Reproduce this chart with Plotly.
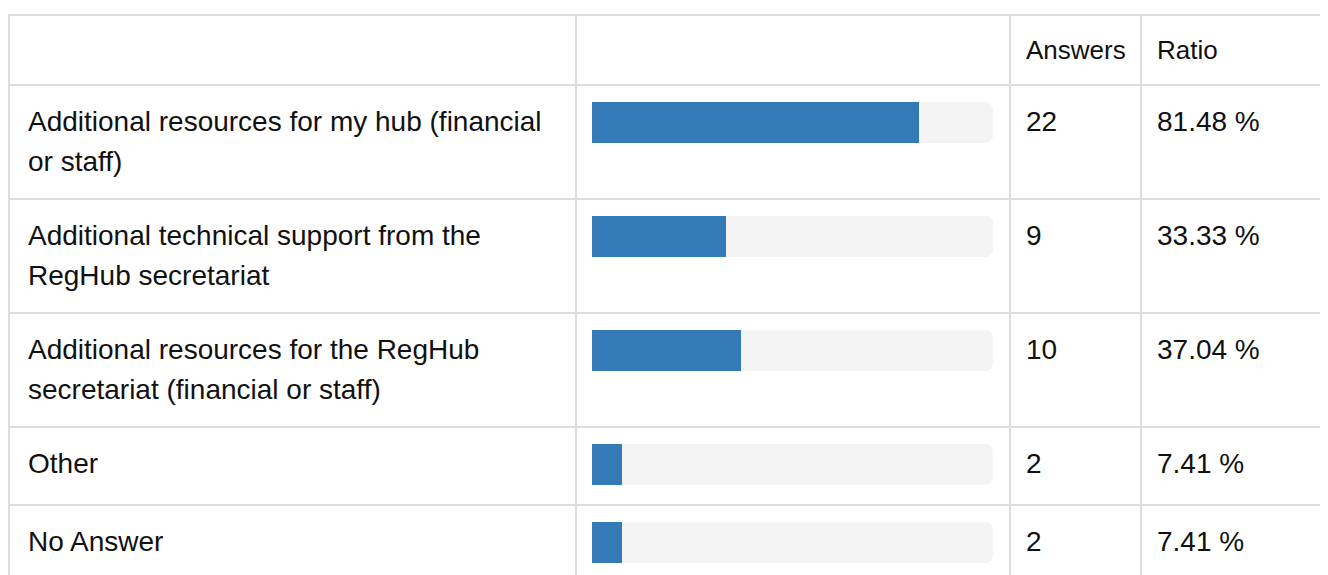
import plotly.graph_objects as go

# ---- data ----
labels = [
    "Additional resources for my hub (financial<br>or staff)",
    "Additional technical support from the<br>RegHub secretariat",
    "Additional resources for the RegHub<br>secretariat (financial or staff)",
    "Other",
    "No Answer",
]
answers = [22, 9, 10, 2, 2]
ratios = [81.48, 33.33, 37.04, 7.41, 7.41]
ratio_labels = ["81.48 %", "33.33 %", "37.04 %", "7.41 %", "7.41 %"]
headers = ["", "", "Answers", "Ratio"]

# ---- layout constants (screen pixel coordinates) ----
VIEW_W, VIEW_H = 1328, 575
BODY = 8                           # default page margin around the figure
FIG_W = VIEW_W                     # figure runs past the right edge (clipped)
FONT = "Liberation Sans, Helvetica Neue, Helvetica, Arial, sans-serif"
FS = 28
FS_HEAD = 26
TEXT = "#111111"
GRID = "#dddddd"
BLUE = "#337ab7"
TRACK = "#f4f4f4"

TABLE_TOP = 15
COL_X = [9, 576, 1010, 1141]      # column left borders
TEXT_PAD = 17
PAD_TOP = 17
LINE_H = 40
HEADER_H = 70
MIN_ROW_H = 78
BAR_H = 41
TRACK_X0, TRACK_X1 = 592, 993

# row geometry
n_lines = [lab.count("<br>") + 1 for lab in labels]
row_h = [max(34 + LINE_H * n, MIN_ROW_H) for n in n_lines]
row_tops = []
y = TABLE_TOP + HEADER_H
for h in row_h:
    row_tops.append(y)
    y += h
table_bottom = y
bar_centers = [t + PAD_TOP + BAR_H / 2 for t in row_tops]

fig = go.Figure()

# track (background of progress bar)
fig.add_trace(go.Bar(
    x=[100] * len(ratios), y=bar_centers, base=0, width=BAR_H,
    orientation="h", xaxis="x2", yaxis="y",
    marker=dict(color=TRACK, line=dict(width=0), cornerradius=8),
    hoverinfo="skip", showlegend=False,
))
# values
fig.add_trace(go.Bar(
    x=ratios, y=bar_centers, base=0, width=BAR_H,
    orientation="h", xaxis="x2", yaxis="y",
    marker=dict(color=BLUE, line=dict(width=0)),
    customdata=labels,
    hovertemplate="%{x:.2f} %<extra></extra>",
    showlegend=False,
))

x_end = BODY + FIG_W
shapes = []
line_style = dict(color=GRID, width=2)
for yy in [TABLE_TOP] + row_tops + [table_bottom]:
    shapes.append(dict(type="line", xref="x", yref="y", x0=COL_X[0] - 1, x1=x_end + 20,
                       y0=yy, y1=yy, line=line_style, layer="above"))
for xx in COL_X:
    shapes.append(dict(type="line", xref="x", yref="y", x0=xx, x1=xx,
                       y0=TABLE_TOP - 1, y1=table_bottom + 1, line=line_style, layer="above"))

annotations = []
def add_text(x, yc, text, size=FS):
    annotations.append(dict(x=x, y=yc, xref="x", yref="y", text=text, showarrow=False,
                            xanchor="left", yanchor="middle",
                            font=dict(family=FONT, size=size, color=TEXT)))

TEXT_OFF = 36
for cx, htxt in zip(COL_X, headers):
    if htxt:
        add_text(cx + TEXT_PAD - 3, TABLE_TOP + TEXT_OFF - 1, htxt, FS_HEAD)
for i, top in enumerate(row_tops):
    for j, part in enumerate(labels[i].split("<br>")):
        add_text(COL_X[0] + TEXT_PAD, top + TEXT_OFF + LINE_H * j, part)
    add_text(COL_X[2] + TEXT_PAD - 3, top + TEXT_OFF, str(answers[i]))
    add_text(COL_X[3] + TEXT_PAD - 3, top + TEXT_OFF, ratio_labels[i])

fig.update_layout(
    width=FIG_W, height=VIEW_H - BODY,
    margin=dict(l=0, r=0, t=0, b=0),
    paper_bgcolor="white", plot_bgcolor="rgba(0,0,0,0)",
    barmode="overlay", bargap=0,
    xaxis=dict(range=[BODY, x_end], domain=[0, 1], visible=False, fixedrange=True),
    xaxis2=dict(range=[0, 100],
                domain=[(TRACK_X0 - BODY) / FIG_W, (TRACK_X1 - BODY) / FIG_W],
                anchor="y", visible=False, fixedrange=True),
    yaxis=dict(range=[VIEW_H, BODY], domain=[0, 1], visible=False, fixedrange=True),
    shapes=shapes, annotations=annotations,
    showlegend=False,
)

fig.write_html("out.html", config={"displayModeBar": False},
               post_script="document.body.style.overflow='hidden';")
